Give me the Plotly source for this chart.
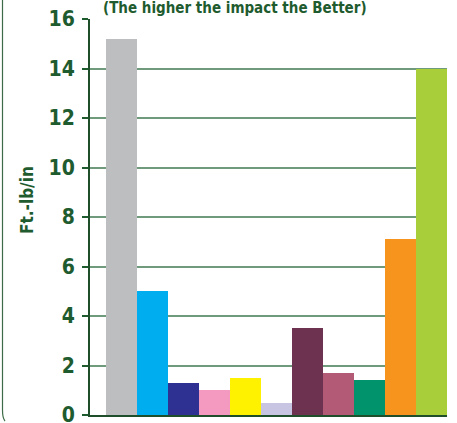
import plotly.graph_objects as go

categories = ["A", "B", "C", "D", "E", "F", "G", "H", "I", "J", "K"]
values = [15.2, 5.0, 1.3, 1.0, 1.5, 0.5, 3.5, 1.7, 1.4, 7.1, 14.0]
colors = ["#BCBEC0", "#00AEEF", "#2E3192", "#F49AC1", "#FFF200", "#C7C5E2",
          "#6D3250", "#B35A76", "#00936C", "#F7941D", "#A8CE3A"]
tick_vals = [0, 2, 4, 6, 8, 10, 12, 14, 16]
title_text = "(The higher the impact the Better)"
y_title = "Ft.-lb/in"

W, H = 457, 423
L, R, T, B = 90, 10, 19, 8
pw, ph = W - L - R, H - T - B

def px(x):
    return (x - L) / pw

def py(y):
    return (H - B - y) / ph

FONT = "DejaVu Sans Condensed, DejaVu Sans, sans-serif"
GREEN = "#1E5B2E"

fig = go.Figure()
fig.add_trace(go.Bar(
    x=list(range(len(categories))),
    y=values,
    marker=dict(color=colors, line=dict(width=0)),
    width=1.0,
    hovertext=categories,
))

fig.update_layout(
    width=W, height=H,
    margin=dict(l=L, r=R, t=T, b=B, pad=0, autoexpand=False),
    paper_bgcolor="white",
    plot_bgcolor="white",
    showlegend=False,
    bargap=0,
    xaxis=dict(
        range=[-1.016, 10.5],
        showticklabels=False,
        showgrid=False,
        zeroline=False,
        showline=True,
        linecolor="#1E4F2A",
        linewidth=2,
        ticks="",
        automargin=False,
        fixedrange=True,
    ),
    yaxis=dict(
        range=[0, 16],
        tickvals=tick_vals,
        ticks="outside",
        ticklen=6,
        tickwidth=1.5,
        tickcolor=GREEN,
        showgrid=True,
        gridcolor="#6F9A7B",
        gridwidth=1.5,
        zeroline=False,
        showline=True,
        linecolor="#1E4F2A",
        linewidth=2,
        tickfont=dict(family=FONT, size=21, color=GREEN, weight="bold"),
        ticklabelstandoff=3,
        ticklabeloverflow="allow",
        automargin=False,
        fixedrange=True,
    ),
    annotations=[
        dict(text=title_text, xref="paper", yref="paper",
             x=px(235), y=py(7.5), xanchor="center", yanchor="middle",
             showarrow=False,
             font=dict(family=FONT, size=15, color=GREEN, weight="bold")),
        dict(text=y_title, xref="paper", yref="paper",
             x=px(27), y=py(200), xanchor="center", yanchor="middle",
             textangle=-90, showarrow=False,
             font=dict(family=FONT, size=17, color=GREEN, weight="bold")),
    ],
    shapes=[
        dict(type="path", xref="paper", yref="paper",
             path=f"M {px(2.5)},{py(-2)} L {px(2.5)},{py(410)} Q {px(2.5)},{py(418)} {px(5)},{py(421)}",
             line=dict(color="#3D6B47", width=1.2)),
    ],
)

fig.write_html("out.html", config={"displayModeBar": False},
               post_script="document.body.style.margin='0';document.body.style.overflow='hidden';")
